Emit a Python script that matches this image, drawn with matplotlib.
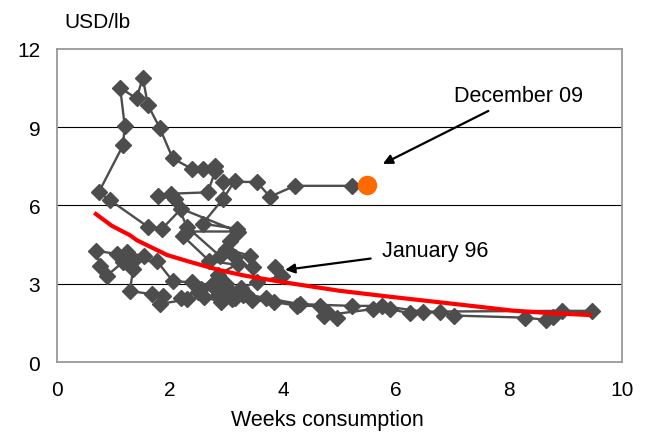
import numpy as np
import matplotlib.pyplot as plt

plt.rcParams['font.family'] = ['Liberation Sans', 'DejaVu Sans']

# monthly path, Jan 96 -> Nov 09 (weeks consumption, USD/lb)
weeks = [3.86, 3.98, 3.55, 3.25, 3.05, 2.85, 3.15, 3.45, 3.85, 4.25, 4.65, 4.78, 4.96, 4.72,
         5.60, 5.90, 6.25, 6.78, 7.03, 8.28, 8.65, 8.78, 9.47,
         8.94, 6.48, 5.75, 5.22, 4.30, 3.70, 3.35, 3.05, 2.75, 2.40, 2.05, 1.77, 1.35, 1.06, 0.70,
         0.76, 0.88, 1.17, 1.24, 1.55, 1.35, 1.29, 1.68,
         1.88, 1.82, 2.30, 2.60, 2.90, 3.10, 3.30, 3.00, 2.80, 2.50, 2.20, 2.55, 2.75, 3.00,
         2.85, 3.20, 3.47, 2.70, 2.23, 2.30, 3.20, 2.20, 1.86, 1.61, 0.94, 0.74,
         1.17, 1.20, 1.12, 1.41, 1.52, 1.61, 1.82, 2.05, 2.39, 2.58, 2.80, 2.80,
         2.67, 2.02, 1.79, 2.09, 2.30, 2.88, 3.15, 3.42, 3.00, 3.06, 3.19, 2.58, 2.94,
         3.15, 2.94, 3.54, 3.77, 4.21, 5.22]
price = [3.64, 3.30, 3.05, 2.85, 2.65, 2.55, 2.45, 2.38, 2.30, 2.15, 2.15, 1.92, 1.68, 1.78,
         2.03, 2.03, 1.86, 1.92, 1.78, 1.70, 1.62, 1.73, 1.96,
         1.96, 1.93, 2.15, 2.15, 2.22, 2.45, 2.60, 2.75, 2.95, 3.05, 3.10, 3.87, 3.87, 4.14, 4.26,
         3.68, 3.30, 3.83, 4.20, 4.05, 3.55, 2.72, 2.60,
         2.53, 2.22, 2.40, 2.50, 2.30, 2.40, 2.55, 2.70, 2.85, 2.70, 2.45, 2.80, 2.95, 3.00,
         3.35, 3.75, 3.64, 3.87, 4.83, 5.00, 5.00, 5.87, 5.10, 5.18, 6.20, 6.50,
         8.30, 9.05, 10.50, 10.10, 10.90, 9.85, 8.97, 7.80, 7.40, 7.40, 7.50, 7.30,
         6.50, 6.45, 6.35, 6.25, 5.18, 4.07, 4.03, 4.07, 4.33, 4.64, 5.10, 5.30, 6.25,
         6.94, 6.90, 6.90, 6.33, 6.75, 6.75]

# latest month
dec09_weeks = [5.49]
dec09_price = [6.78]

# trend line
trend_weeks = [0.69, 0.97, 1.29, 1.42, 1.95, 2.35, 2.88, 3.30, 4.00, 5.00, 5.90, 6.85, 8.07, 8.67, 9.43]
trend_price = [5.67, 5.22, 4.86, 4.66, 4.10, 3.84, 3.52, 3.32, 3.06, 2.73, 2.50, 2.27, 1.97, 1.88, 1.80]

fig = plt.figure(figsize=(6.47, 4.35), dpi=100)
ax = fig.add_axes([0.088, 0.1655, 0.873, 0.72])

ax.plot(weeks, price, color='#4d4d4d', lw=1.7, marker='D', markersize=8, zorder=3)
ax.plot(trend_weeks, trend_price, color='#ff0000', lw=3, zorder=4)
ax.plot(dec09_weeks, dec09_price, 'o', color='#ff6a00', markersize=13, zorder=5)

ax.set_xlim(0, 10)
ax.set_ylim(0, 12)
ax.set_xticks([0, 2, 4, 6, 8, 10])
ax.set_yticks([0, 3, 6, 9, 12])
ax.tick_params(axis='both', length=0, labelsize=15)
ax.tick_params(axis='x', pad=13)
ax.tick_params(axis='y', pad=12)
for y in [3, 6, 9]:
    ax.axhline(y, color='black', lw=0.8, zorder=1)
for s in ax.spines.values():
    s.set_color('#999999')
    s.set_linewidth(1.3)

# annotations
ax.annotate('December 09', xy=(5.77, 7.59), xytext=(7.03, 10.2),
            fontsize=15.5, va='center', ha='left',
            arrowprops=dict(arrowstyle='-|>', color='black', lw=1.6, mutation_scale=14,
                            shrinkA=3, shrinkB=0))
ax.annotate('January 96', xy=(4.04, 3.53), xytext=(5.75, 4.29),
            fontsize=15.5, va='center', ha='left',
            arrowprops=dict(arrowstyle='-|>', color='black', lw=1.6, mutation_scale=14,
                            shrinkA=6, shrinkB=0))

fig.text(64 / 647, 1 - 22 / 435, 'USD/lb', fontsize=15, ha='left', va='center')
fig.text(327 / 647, 1 - 421 / 435, 'Weeks consumption', fontsize=15.5, ha='center', va='center')

fig.savefig('out.png', dpi=100)
